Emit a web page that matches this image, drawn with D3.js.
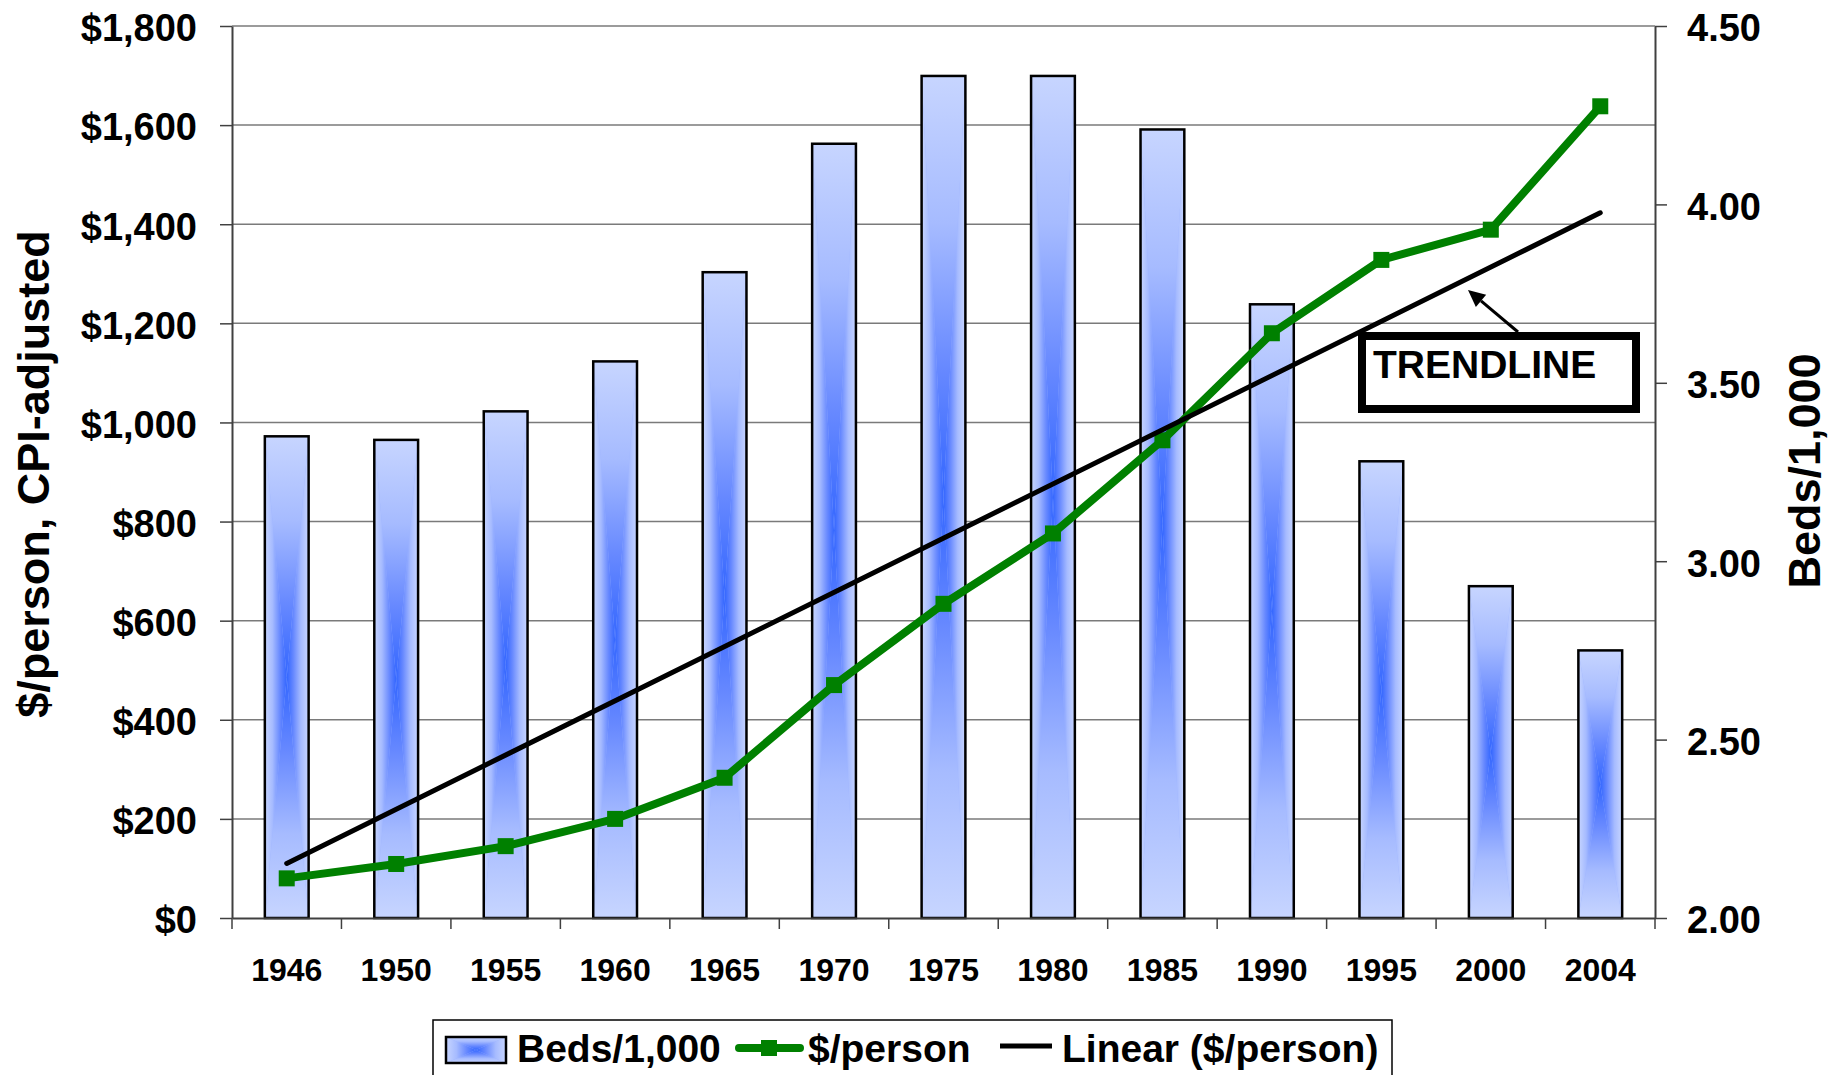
<!DOCTYPE html>
<html>
<head>
<meta charset="utf-8">
<script src="https://cdn.jsdelivr.net/npm/d3@7"></script>
<style>
  html, body { margin: 0; padding: 0; background: #fff; }
  svg text { font-family: "Liberation Sans", Arial, Helvetica, sans-serif; font-weight: bold; fill: #000; }
</style>
</head>
<body>
<svg id="chart" width="1846" height="1075"></svg>
<script>
// data
const years = ['1946', '1950', '1955', '1960', '1965', '1970', '1975', '1980', '1985', '1990', '1995', '2000', '2004'];
const bedsPer1000 = [3.35, 3.34, 3.42, 3.56, 3.81, 4.17, 4.36, 4.36, 4.21, 3.72, 3.28, 2.93, 2.75];
const dollarsPerPerson = [80, 109, 145, 200, 283, 470, 634, 776, 964, 1180, 1328, 1389, 1638];
const trendEnds = [110, 1423]; // linear trend at first and last year
const dollarTicks = [0, 200, 400, 600, 800, 1000, 1200, 1400, 1600, 1800];
const bedTicks = [2.0, 2.5, 3.0, 3.5, 4.0, 4.5];
const legendLabels = ['Beds/1,000', '$/person', 'Linear ($/person)'];
const calloutText = 'TRENDLINE';

const W = 1846, H = 1075;
const margin = { top: 26, right: 191, bottom: 157, left: 232 };
const plotW = W - margin.left - margin.right;
const plotH = H - margin.top - margin.bottom;

const green = '#008000';

const svg = d3.select('#chart');
svg.append('rect').attr('width', W).attr('height', H).attr('fill', '#fff');

// Excel-style "from center" rectangular gradient, built from four triangles
const gradStops = [[0, '#3366ff'], [0.3, '#6688ff'], [0.65, '#a6bbff'], [1, '#c7d5ff']];
const defs = svg.append('defs');
[['top', 0, 1, 0, 0], ['bottom', 0, 0, 0, 1], ['left', 1, 0, 0, 0], ['right', 0, 0, 1, 0]].forEach(([id, x1, y1, x2, y2]) => {
  const g = defs.append('linearGradient').attr('id', 'grad-' + id)
    .attr('x1', x1).attr('y1', y1).attr('x2', x2).attr('y2', y2);
  gradStops.forEach(([o, c]) => g.append('stop').attr('offset', o).attr('stop-color', c));
});

function gradientBox(parent, x, y, w, h, strokeW) {
  const g = parent.append('g');
  const cx = x + w / 2, cy = y + h / 2;
  g.append('rect').attr('x', x).attr('y', y).attr('width', w).attr('height', h).attr('fill', '#9fb5ff');
  const tris = [
    ['top', [[x, y], [x + w, y], [cx, cy]]],
    ['bottom', [[x, y + h], [x + w, y + h], [cx, cy]]],
    ['left', [[x, y], [x, y + h], [cx, cy]]],
    ['right', [[x + w, y], [x + w, y + h], [cx, cy]]],
  ];
  tris.forEach(([id, pts]) => {
    g.append('path').attr('d', 'M' + pts.join('L') + 'Z').attr('fill', `url(#grad-${id})`);
  });
  g.append('rect').attr('x', x).attr('y', y).attr('width', w).attr('height', h)
    .attr('fill', 'none').attr('stroke', '#000').attr('stroke-width', strokeW);
  return g;
}

const plot = svg.append('g').attr('transform', `translate(${margin.left},${margin.top})`);

const x = d3.scaleBand().domain(years).range([0, plotW]).paddingInner(0.6).paddingOuter(0.3);
const yL = d3.scaleLinear().domain([0, 1800]).range([plotH, 0]);
const yR = d3.scaleLinear().domain([2, 4.5]).range([plotH, 0]);
const cx = d => x(d) + x.bandwidth() / 2;

// gridlines
plot.append('g').selectAll('line').data(dollarTicks.filter(d => d > 0)).join('line')
  .attr('x1', 0).attr('x2', plotW)
  .attr('y1', d => yL(d)).attr('y2', d => yL(d))
  .attr('stroke', '#7a7a7a').attr('stroke-width', 1.5);

// bars (right axis)
const barsG = plot.append('g');
years.forEach((yr, i) => {
  const top = yR(bedsPer1000[i]);
  gradientBox(barsG, x(yr), top, x.bandwidth(), plotH - top, 2.5);
});

// axes
const leftAxis = plot.append('g')
  .call(d3.axisLeft(yL).tickValues(dollarTicks).tickFormat(d3.format('$,')).tickSize(12).tickSizeOuter(0).tickPadding(23));
const rightAxis = plot.append('g').attr('transform', `translate(${plotW},0)`)
  .call(d3.axisRight(yR).tickValues(bedTicks).tickFormat(d3.format('.2f')).tickSize(12).tickSizeOuter(0).tickPadding(20));
const bottomAxis = plot.append('g').attr('transform', `translate(0,${plotH})`)
  .call(d3.axisBottom(x).tickSize(0).tickSizeOuter(0).tickPadding(40));

[leftAxis, rightAxis, bottomAxis].forEach(a => {
  a.select('.domain').attr('stroke', '#404040').attr('stroke-width', 2);
  a.selectAll('.tick line').attr('stroke', '#404040').attr('stroke-width', 1.5);
});
leftAxis.selectAll('.tick text').attr('font-size', 38).attr('dy', '0.39em');
rightAxis.selectAll('.tick text').attr('font-size', 38).attr('dy', '0.39em');
bottomAxis.selectAll('.tick text').attr('font-size', 32);

// category ticks sit between the bars
const step = x.step();
bottomAxis.append('g').selectAll('line').data(d3.range(years.length + 1)).join('line')
  .attr('x1', i => i * step).attr('x2', i => i * step)
  .attr('y1', 0).attr('y2', 11)
  .attr('stroke', '#404040').attr('stroke-width', 1.5);

// $/person line
plot.append('path')
  .datum(years.map((yr, i) => [cx(yr), yL(dollarsPerPerson[i])]))
  .attr('d', d3.line())
  .attr('fill', 'none').attr('stroke', green).attr('stroke-width', 8)
  .attr('stroke-linejoin', 'round');
plot.append('g').selectAll('rect').data(years).join('rect')
  .attr('x', (yr) => cx(yr) - 8)
  .attr('y', (yr, i) => yL(dollarsPerPerson[i]) - 8)
  .attr('width', 16).attr('height', 16)
  .attr('fill', green);

// linear trendline
plot.append('path')
  .datum([[cx(years[0]), yL(trendEnds[0])], [cx(years[years.length - 1]), yL(trendEnds[1])]])
  .attr('d', d3.line())
  .attr('fill', 'none').attr('stroke', '#000').attr('stroke-width', 5)
  .attr('stroke-linecap', 'round');

// TRENDLINE callout
const call = svg.append('g');
const tip = [1468, 290], tail = [1518, 332];
const ang = Math.atan2(tip[1] - tail[1], tip[0] - tail[0]);
const headLen = 17, headW = 8;
const base = [tip[0] - headLen * Math.cos(ang), tip[1] - headLen * Math.sin(ang)];
call.append('line')
  .attr('x1', tail[0]).attr('y1', tail[1]).attr('x2', base[0]).attr('y2', base[1])
  .attr('stroke', '#000').attr('stroke-width', 3);
call.append('path')
  .attr('d', `M${tip}L${base[0] + headW * Math.sin(ang)},${base[1] - headW * Math.cos(ang)}L${base[0] - headW * Math.sin(ang)},${base[1] + headW * Math.cos(ang)}Z`)
  .attr('fill', '#000');
call.append('rect').attr('x', 1362).attr('y', 336).attr('width', 274).attr('height', 73)
  .attr('fill', '#fff').attr('stroke', '#000').attr('stroke-width', 8);
call.append('text').attr('x', 1373).attr('y', 378).attr('font-size', 39).text(calloutText);

// axis titles
svg.append('text')
  .attr('transform', 'translate(49,474) rotate(-90)')
  .attr('text-anchor', 'middle').attr('font-size', 45)
  .text('$/person, CPI-adjusted');
svg.append('text')
  .attr('transform', 'translate(1820,471) rotate(-90)')
  .attr('text-anchor', 'middle').attr('font-size', 45)
  .text('Beds/1,000');

// legend
const lg = svg.append('g');
lg.append('rect').attr('x', 433).attr('y', 1020).attr('width', 959).attr('height', 80)
  .attr('fill', '#fff').attr('stroke', '#000').attr('stroke-width', 1.5);
gradientBox(lg, 446, 1037, 60, 26, 2.5);
lg.append('text').attr('x', 517).attr('y', 1062).attr('font-size', 39).text(legendLabels[0]);
lg.append('line').attr('x1', 739).attr('x2', 800).attr('y1', 1048).attr('y2', 1048)
  .attr('stroke', green).attr('stroke-width', 8).attr('stroke-linecap', 'round');
lg.append('rect').attr('x', 761).attr('y', 1040).attr('width', 16).attr('height', 16).attr('fill', green);
lg.append('text').attr('x', 808).attr('y', 1062).attr('font-size', 39).text(legendLabels[1]);
lg.append('line').attr('x1', 1000).attr('x2', 1052).attr('y1', 1046).attr('y2', 1046)
  .attr('stroke', '#000').attr('stroke-width', 5);
lg.append('text').attr('x', 1062).attr('y', 1062).attr('font-size', 39).text(legendLabels[2]);
</script>
</body>
</html>
